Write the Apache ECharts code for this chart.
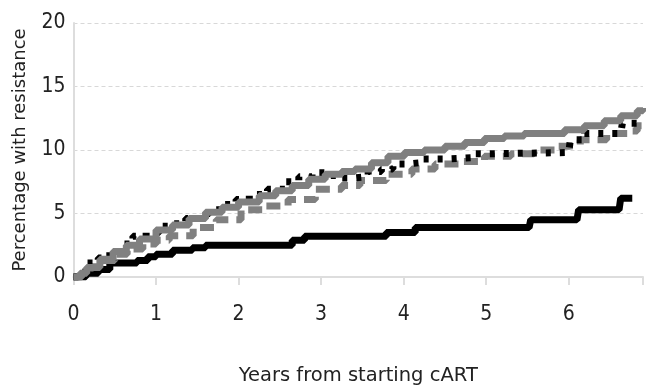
<!DOCTYPE html>
<html><head><meta charset="utf-8">
<script src="https://cdn.jsdelivr.net/npm/echarts@6/dist/echarts.min.js"></script>
<style>html,body{margin:0;padding:0;background:#fff}#c{width:646px;height:391px}</style>
</head><body><div id="c"></div>
<script>
const xTicks = [0,1,2,3,4,5,6];
const yTicks = [0,5,10,15,20];
// [years, percentage]
const blackSolid = [[0,0],[0.15,0.3],[0.3,0.6],[0.44,1.1],[0.77,1.3],[0.9,1.6],[1.0,1.8],[1.2,2.1],[1.44,2.3],[1.6,2.5],[2.45,2.5],[2.65,2.9],[2.8,3.2],[3.69,3.2],[3.79,3.5],[4.14,3.9],[5.52,3.9],[5.54,4.5],[6.1,4.5],[6.12,5.3],[6.61,5.3],[6.63,6.2],[6.77,6.2]];
const graySolid = [[0,0],[0.08,0.3],[0.16,0.75],[0.32,1.4],[0.48,2.0],[0.64,2.5],[0.8,3.0],[1.0,3.7],[1.2,4.1],[1.4,4.6],[1.6,5.1],[1.8,5.5],[2.0,5.9],[2.25,6.4],[2.45,6.8],[2.65,7.2],[2.85,7.7],[3.05,8.1],[3.25,8.3],[3.41,8.5],[3.61,9.0],[3.81,9.5],[4.01,9.8],[4.25,10.0],[4.5,10.3],[4.74,10.6],[4.98,10.9],[5.22,11.1],[5.46,11.3],[5.7,11.3],[5.95,11.6],[6.19,11.9],[6.43,12.3],[6.63,12.7],[6.83,13.1],[6.9,13.3]];
const blackDotted = [[0,0],[0.08,0.4],[0.16,1.1],[0.3,1.5],[0.44,2.0],[0.58,2.6],[0.72,3.2],[0.88,3.5],[1.04,4.0],[1.2,4.2],[1.36,4.6],[1.52,5.0],[1.65,5.3],[1.8,5.7],[1.97,6.1],[2.13,6.5],[2.35,6.9],[2.57,7.5],[2.73,7.9],[2.89,8.2],[3.05,8.0],[3.25,7.8],[3.41,7.9],[3.57,8.3],[3.73,8.5],[3.87,8.9],[4.05,9.0],[4.2,9.3],[4.54,9.4],[4.87,9.7],[5.04,9.8],[6.0,9.8],[6.02,10.8],[6.19,11.3],[6.63,11.3],[6.65,12.1],[6.85,12.1]];
const grayDashed = [[0,0],[0.1,0.3],[0.2,0.8],[0.35,1.3],[0.5,1.8],[0.65,2.2],[0.84,2.6],[1.0,2.9],[1.16,3.25],[1.45,3.9],[1.73,4.5],[2.03,5.3],[2.33,5.6],[2.6,6.1],[2.93,6.9],[3.25,7.2],[3.47,7.6],[3.79,8.1],[4.1,8.5],[4.38,8.9],[4.7,9.1],[4.98,9.5],[5.3,9.7],[5.58,10.0],[5.86,10.3],[6.0,10.4],[6.14,10.8],[6.46,11.3],[6.73,11.5],[6.83,11.9],[6.9,11.9]];

const chart = echarts.init(document.getElementById('c'));
const tickFont = {fontFamily:"'Liberation Sans Narrow','DejaVu Sans Condensed','Roboto Condensed','Liberation Sans',sans-serif", fontSize:21, color:'#222'};
function s(data,color,type){
  return {type:'line',step:'end',data:data,symbol:'none',
    lineStyle:{color:color,width:7,type:type,cap:'butt'}};
}
chart.setOption({
  animation:false,
  grid:{left:73.5,right:0,top:23,bottom:103},
  xAxis:{type:'value',min:0,max:6.9,interval:1,
    name:'Years from starting cART',nameLocation:'middle',nameGap:89,
    nameTextStyle:{fontFamily:'DejaVu Sans',fontSize:19.5,color:'#222'},
    axisLine:{show:true,lineStyle:{color:'#ddd',width:2}},
    axisTick:{show:true,length:8,lineStyle:{color:'#ddd',width:2}},
    axisLabel:Object.assign({margin:27,formatter:v=>xTicks.includes(v)?String(v):''},tickFont),
    splitLine:{show:false}},
  yAxis:{type:'value',min:0,max:20,interval:5,
    name:'Percentage with resistance',nameLocation:'middle',nameGap:44,
    nameTextStyle:{fontFamily:'DejaVu Sans',fontSize:18,color:'#222'},
    axisLine:{show:true,lineStyle:{color:'#ddd',width:2}},
    axisTick:{show:false},
    axisLabel:Object.assign({margin:8,formatter:v=>yTicks.includes(v)?String(v):''},tickFont),
    splitLine:{show:true,lineStyle:{color:'#d8d8d8',type:[4,3]}}},
  series:[
    s(blackSolid,'#000','solid'),
    s(grayDashed,'#808080',[14,8]),
    s(blackDotted,'#000',[5,9]),
    s(graySolid,'#808080','solid')
  ]
});
</script></body></html>
